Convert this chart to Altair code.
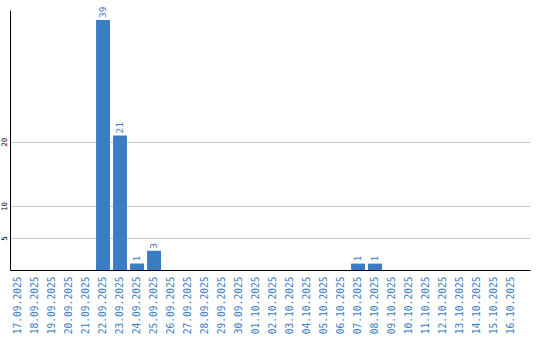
import altair as alt
import pandas as pd

dates = ["17.09.2025", "18.09.2025", "19.09.2025", "20.09.2025", "21.09.2025",
         "22.09.2025", "23.09.2025", "24.09.2025", "25.09.2025", "26.09.2025",
         "27.09.2025", "28.09.2025", "29.09.2025", "30.09.2025", "01.10.2025",
         "02.10.2025", "03.10.2025", "04.10.2025", "05.10.2025", "06.10.2025",
         "07.10.2025", "08.10.2025", "09.10.2025", "10.10.2025", "11.10.2025",
         "12.10.2025", "13.10.2025", "14.10.2025", "15.10.2025", "16.10.2025"]
values = [0, 0, 0, 0, 0,
          39, 21, 1, 3, 0,
          0, 0, 0, 0, 0,
          0, 0, 0, 0, 0,
          1, 1, 0, 0, 0,
          0, 0, 0, 0, 0]
y_ticks = [5, 10, 20]

df = pd.DataFrame({"date": dates, "value": values})

BLUE = "#3b7dc2"
FONT = "DejaVu Sans Mono"

x_enc = alt.X("date:N", sort=dates, title=None,
              scale=alt.Scale(paddingInner=0.18, paddingOuter=0.384, align=0.08),
              axis=alt.Axis(labelAngle=270, labelAlign="right", labelBaseline="middle",
                            labelColor=BLUE, labelFont=FONT, labelFontSize=9.6,
                            labelPadding=6, ticks=False, domainColor="black",
                            domainWidth=1, grid=False, labelOverlap=False))
y_enc = alt.Y("value:Q", title=None,
              scale=alt.Scale(domain=[0, 40.56], nice=False, zero=True),
              axis=alt.Axis(values=y_ticks, labelAngle=270, labelAlign="center",
                            labelBaseline="bottom", labelFont=FONT, labelFontSize=7.5,
                            labelColor="black", labelPadding=2, ticks=False,
                            domainColor="black", domainWidth=1, grid=True,
                            gridColor="#c8c8c8", gridWidth=1))

bars = alt.Chart(df).mark_bar(color=BLUE).encode(x=x_enc, y=y_enc)
labels = alt.Chart(df).transform_filter("datum.value > 0").mark_text(
    angle=270, align="left", baseline="middle", dx=2, color=BLUE,
    font=FONT, fontSize=9.5
).encode(x=alt.X("date:N", sort=dates), y=alt.Y("value:Q"), text="value:Q")

chart = alt.layer(bars, labels).properties(
    width=520, height=260,
    background="white",
    autosize=alt.AutoSizeParams(type="none"),
    padding={"left": 10, "top": 10, "right": 10, "bottom": 70},
).configure_view(stroke=None, strokeWidth=0)

chart.save("out.html", embed_options={"renderer": "svg", "actions": False})
